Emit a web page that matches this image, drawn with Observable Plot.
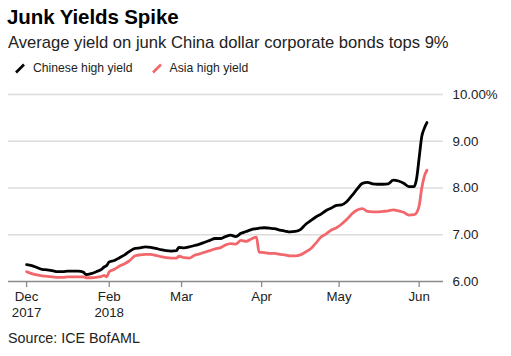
<!DOCTYPE html>
<html>
<head>
<meta charset="utf-8">
<script src="https://cdn.jsdelivr.net/npm/d3@7"></script>
<script src="https://cdn.jsdelivr.net/npm/@observablehq/plot@0.6"></script>
<style>
  html, body { margin: 0; padding: 0; background: #fff; }
  body { width: 511px; height: 356px; position: relative; overflow: hidden; font-family: "Liberation Sans", Arial, sans-serif; color: #000; }
  #title { position: absolute; left: 7px; top: 5px; font-size: 20.5px; font-weight: bold; letter-spacing: -0.1px; }
  #subtitle { position: absolute; left: 8px; top: 33px; font-size: 16.6px; color: #222; }
  #legend { position: absolute; left: 14px; top: 61px; font-size: 12.2px; color: #222; display: flex; align-items: center; }
  .item { display: flex; align-items: center; margin-right: 18px; }
  .sw { width: 12px; height: 12px; margin-right: 7px; }
  #chart { position: absolute; left: 0; top: 84px; }
  #source { position: absolute; left: 8px; top: 330px; font-size: 14.3px; color: #222; }
</style>
</head>
<body>
<div id="title">Junk Yields Spike</div>
<div id="subtitle">Average yield on junk China dollar corporate bonds tops 9%</div>
<div id="legend"></div>
<div id="chart"></div>
<div id="source">Source: ICE BofAML</div>
<script>
const seriesNames = ["Chinese high yield", "Asia high yield"];
const seriesColors = ["#000000", "#f2676b"];

const dates = [
  "2017-12-31","2018-01-02","2018-01-04","2018-01-06","2018-01-08","2018-01-10","2018-01-12","2018-01-14",
  "2018-01-16","2018-01-18","2018-01-20","2018-01-22","2018-01-23","2018-01-25","2018-01-27","2018-01-29",
  "2018-01-30","2018-01-31","2018-02-01","2018-02-03","2018-02-05","2018-02-07","2018-02-09","2018-02-11",
  "2018-02-13","2018-02-15","2018-02-17","2018-02-19","2018-02-21","2018-02-23","2018-02-25","2018-02-27",
  "2018-02-28","2018-03-02","2018-03-04","2018-03-06","2018-03-08","2018-03-10","2018-03-12","2018-03-14",
  "2018-03-16","2018-03-18","2018-03-20","2018-03-22","2018-03-24","2018-03-26","2018-03-28","2018-03-30",
  "2018-03-31","2018-04-02","2018-04-04","2018-04-06","2018-04-08","2018-04-10","2018-04-12","2018-04-14",
  "2018-04-16","2018-04-18","2018-04-20","2018-04-22","2018-04-24","2018-04-26","2018-04-28","2018-04-30",
  "2018-05-02","2018-05-04","2018-05-06","2018-05-08","2018-05-10","2018-05-12","2018-05-14","2018-05-16",
  "2018-05-18","2018-05-20","2018-05-22","2018-05-24","2018-05-26","2018-05-28","2018-05-30","2018-05-31",
  "2018-06-01","2018-06-02","2018-06-03","2018-06-04"
];

const chineseHY = [
  6.36,6.34,6.30,6.26,6.25,6.23,6.21,6.21,
  6.22,6.22,6.22,6.20,6.15,6.17,6.21,6.26,
  6.31,6.34,6.42,6.45,6.51,6.57,6.65,6.71,
  6.72,6.74,6.73,6.71,6.68,6.66,6.65,6.66,
  6.73,6.72,6.74,6.77,6.80,6.84,6.88,6.92,
  6.92,6.96,6.99,6.96,7.03,7.07,7.11,7.13,
  7.14,7.15,7.14,7.13,7.10,7.08,7.06,7.07,
  7.11,7.22,7.30,7.38,7.44,7.52,7.57,7.63,
  7.64,7.71,7.84,7.98,8.10,8.12,8.09,8.08,
  8.08,8.09,8.17,8.15,8.10,8.03,8.03,8.20,
  8.65,9.10,9.28,9.40
];

const asiaHY = [
  6.21,6.17,6.14,6.12,6.11,6.10,6.09,6.09,
  6.10,6.10,6.10,6.10,6.08,6.08,6.09,6.11,
  6.13,6.10,6.21,6.26,6.33,6.38,6.45,6.55,
  6.57,6.58,6.58,6.56,6.53,6.51,6.50,6.50,
  6.54,6.51,6.50,6.56,6.59,6.63,6.66,6.70,
  6.72,6.78,6.81,6.80,6.88,6.86,6.91,6.95,
  6.63,6.62,6.60,6.60,6.58,6.57,6.55,6.55,
  6.57,6.63,6.70,6.82,6.95,7.02,7.10,7.15,
  7.23,7.33,7.45,7.53,7.56,7.50,7.49,7.49,
  7.50,7.51,7.53,7.51,7.48,7.42,7.43,7.47,
  7.62,8.00,8.25,8.38
];

const xTickDates = ["2017-12-31","2018-02-01","2018-03-01","2018-04-01","2018-05-01","2018-06-01"];
const xTickLabels = ["Dec\n2017","Feb\n2018","Mar","Apr","May","Jun"];
const yTicks = [6, 7, 8, 9, 10];
const yTickLabels = ["6.00", "7.00", "8.00", "9.00", "10.00%"];

const parse = d3.utcParse("%Y-%m-%d");
const rows = [];
dates.forEach((d, i) => {
  rows.push({date: parse(d), value: chineseHY[i], series: seriesNames[0]});
  rows.push({date: parse(d), value: asiaHY[i], series: seriesNames[1]});
});
const tickDates = xTickDates.map(parse);
const labelOf = new Map(tickDates.map((d, i) => [+d, xTickLabels[i]]));
const yLabelOf = new Map(yTicks.map((v, i) => [v, yTickLabels[i]]));

// Legend
const legend = document.getElementById("legend");
seriesNames.forEach((name, i) => {
  const item = document.createElement("div");
  item.className = "item";
  item.innerHTML = `<svg class="sw" viewBox="0 0 12 12"><line x1="2" y1="10.5" x2="10" y2="2.5" stroke="${seriesColors[i]}" stroke-width="2.6" stroke-linecap="butt"/></svg><span>${name}</span>`;
  legend.appendChild(item);
});

const chart = Plot.plot({
  width: 511,
  height: 240,
  marginLeft: 8,
  marginRight: 68,
  marginTop: 10,
  marginBottom: 43,
  style: {fontFamily: "'Liberation Sans', Arial, sans-serif", fontSize: "13px", color: "#222", background: "#fff"},
  x: {type: "utc", domain: [parse("2017-12-24"), new Date(Date.UTC(2018, 5, 10, 10))], label: null},
  y: {domain: [6, 10], label: null},
  color: {domain: seriesNames, range: seriesColors},
  marks: [
    Plot.gridY([7, 8, 9, 10], {stroke: "#dcdcdc", strokeOpacity: 1, strokeWidth: 1.6}),
    Plot.ruleY([6], {stroke: "#8a8a8a", strokeWidth: 1.5}),
    Plot.axisY(yTicks, {anchor: "right", label: null, tickSize: 0, tickPadding: 9, tickFormat: v => yLabelOf.get(v), fontSize: 13.3, fill: "#222"}),
    Plot.axisX(tickDates, {label: null, tickSize: 6, stroke: "#8a8a8a", strokeWidth: 1.3, tickPadding: 3, tickFormat: d => labelOf.get(+d), fontSize: 13.3, fill: "#222", lineHeight: 1.15}),
    Plot.line(rows, {x: "date", y: "value", z: "series", stroke: "series", strokeWidth: 2.8, strokeLinejoin: "round", curve: "monotone-x"})
  ]
});
document.getElementById("chart").appendChild(chart);
</script>
</body>
</html>
